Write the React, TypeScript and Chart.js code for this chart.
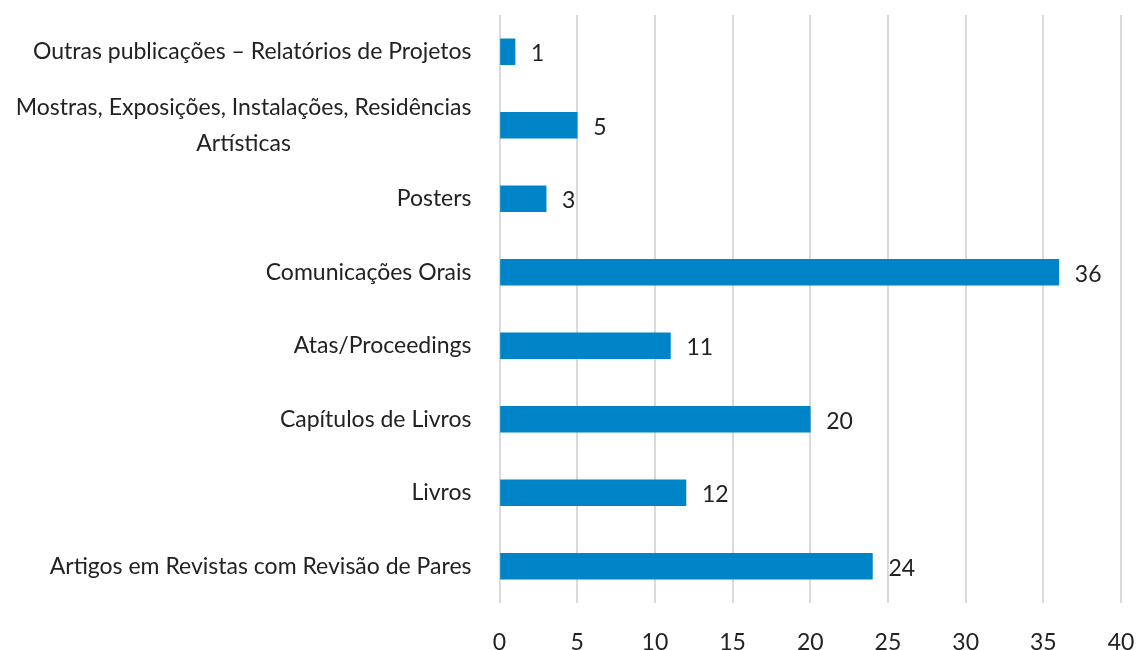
import React, { useEffect, useRef } from "react";
import { Chart, registerables } from "chart.js";

Chart.register(...registerables);

const categories: (string | string[])[] = [
  "Outras publicações – Relatórios de Projetos",
  ["Mostras, Exposições, Instalações, Residências", "Artísticas"],
  "Posters",
  "Comunicações Orais",
  "Atas/Proceedings",
  "Capítulos de Livros",
  "Livros",
  "Artigos em Revistas com Revisão de Pares",
];
const values = [1, 5, 3, 36, 11, 20, 12, 24];
const xMin = 0;
const xMax = 40;
const xStep = 5;

const FONT = "Lato, 'Noto Sans', sans-serif";
const FONT_SIZE = 23;
const TEXT_COLOR = "#222222";
const BAR_COLOR = "#0084C8";
const GRID_COLOR = "#d9d9d9";

const labelPlugin = {
  id: "customLabels",
  afterDraw(chart: any) {
    const ctx = chart.ctx as CanvasRenderingContext2D;
    const yScale = chart.scales.y;
    ctx.save();
    ctx.font = `${FONT_SIZE}px ${FONT}`;
    ctx.fillStyle = TEXT_COLOR;
    ctx.textBaseline = "middle";
    const right = chart.chartArea.left - 28;
    categories.forEach((c, i) => {
      const py = yScale.getPixelForValue(i);
      const lines = Array.isArray(c) ? c : [c];
      const widths = lines.map((l) => ctx.measureText(l).width);
      const maxW = Math.max(...widths);
      const lh = 36;
      lines.forEach((l, j) => {
        const ly = py + (j - (lines.length - 1) / 2) * lh;
        ctx.textAlign = "center";
        ctx.fillText(l, right - maxW / 2, ly);
      });
    });
    const meta = chart.getDatasetMeta(0);
    meta.data.forEach((bar: any, i: number) => {
      ctx.textAlign = "left";
      ctx.fillText(String(values[i]), bar.x + 16, bar.y + 2);
    });
    ctx.restore();
  },
};

export default function App() {
  const canvasRef = useRef<HTMLCanvasElement | null>(null);

  useEffect(() => {
    document.body.style.margin = "0";
    const canvas = canvasRef.current;
    if (!canvas) return;
    const chart = new Chart(canvas, {
      type: "bar",
      data: {
        labels: categories.map((c) => (Array.isArray(c) ? c.join(" ") : c)),
        datasets: [
          {
            data: values,
            backgroundColor: BAR_COLOR,
            borderWidth: 0,
            barThickness: 26,
          },
        ],
      },
      options: {
        indexAxis: "y",
        responsive: false,
        animation: false,
        devicePixelRatio: 1,
        layout: { padding: { top: 15, right: 16, left: 0, bottom: 0 } },
        plugins: {
          legend: { display: false },
          tooltip: { enabled: false },
        },
        scales: {
          x: {
            type: "linear",
            min: xMin,
            max: xMax,
            ticks: {
              stepSize: xStep,
              padding: 0,
              color: TEXT_COLOR,
              font: { family: FONT, size: FONT_SIZE },
            },
            grid: {
              color: GRID_COLOR,
              lineWidth: 2,
              drawTicks: true,
              tickLength: 26,
              tickColor: "rgba(0,0,0,0)",
            },
            border: { display: false },
            afterFit: (scale: any) => {
              scale.height = 47;
            },
          },
          y: {
            type: "category",
            ticks: { display: false },
            grid: { display: false },
            border: { display: false },
            afterFit: (scale: any) => {
              scale.width = 499.5;
            },
          },
        },
      },
      plugins: [labelPlugin],
    });
    return () => chart.destroy();
  }, []);

  return (
    <div style={{ position: "absolute", left: 0, top: 0, width: 1137, height: 650, background: "#fff" }}>
      <canvas ref={canvasRef} width={1137} height={650} />
    </div>
  );
}
